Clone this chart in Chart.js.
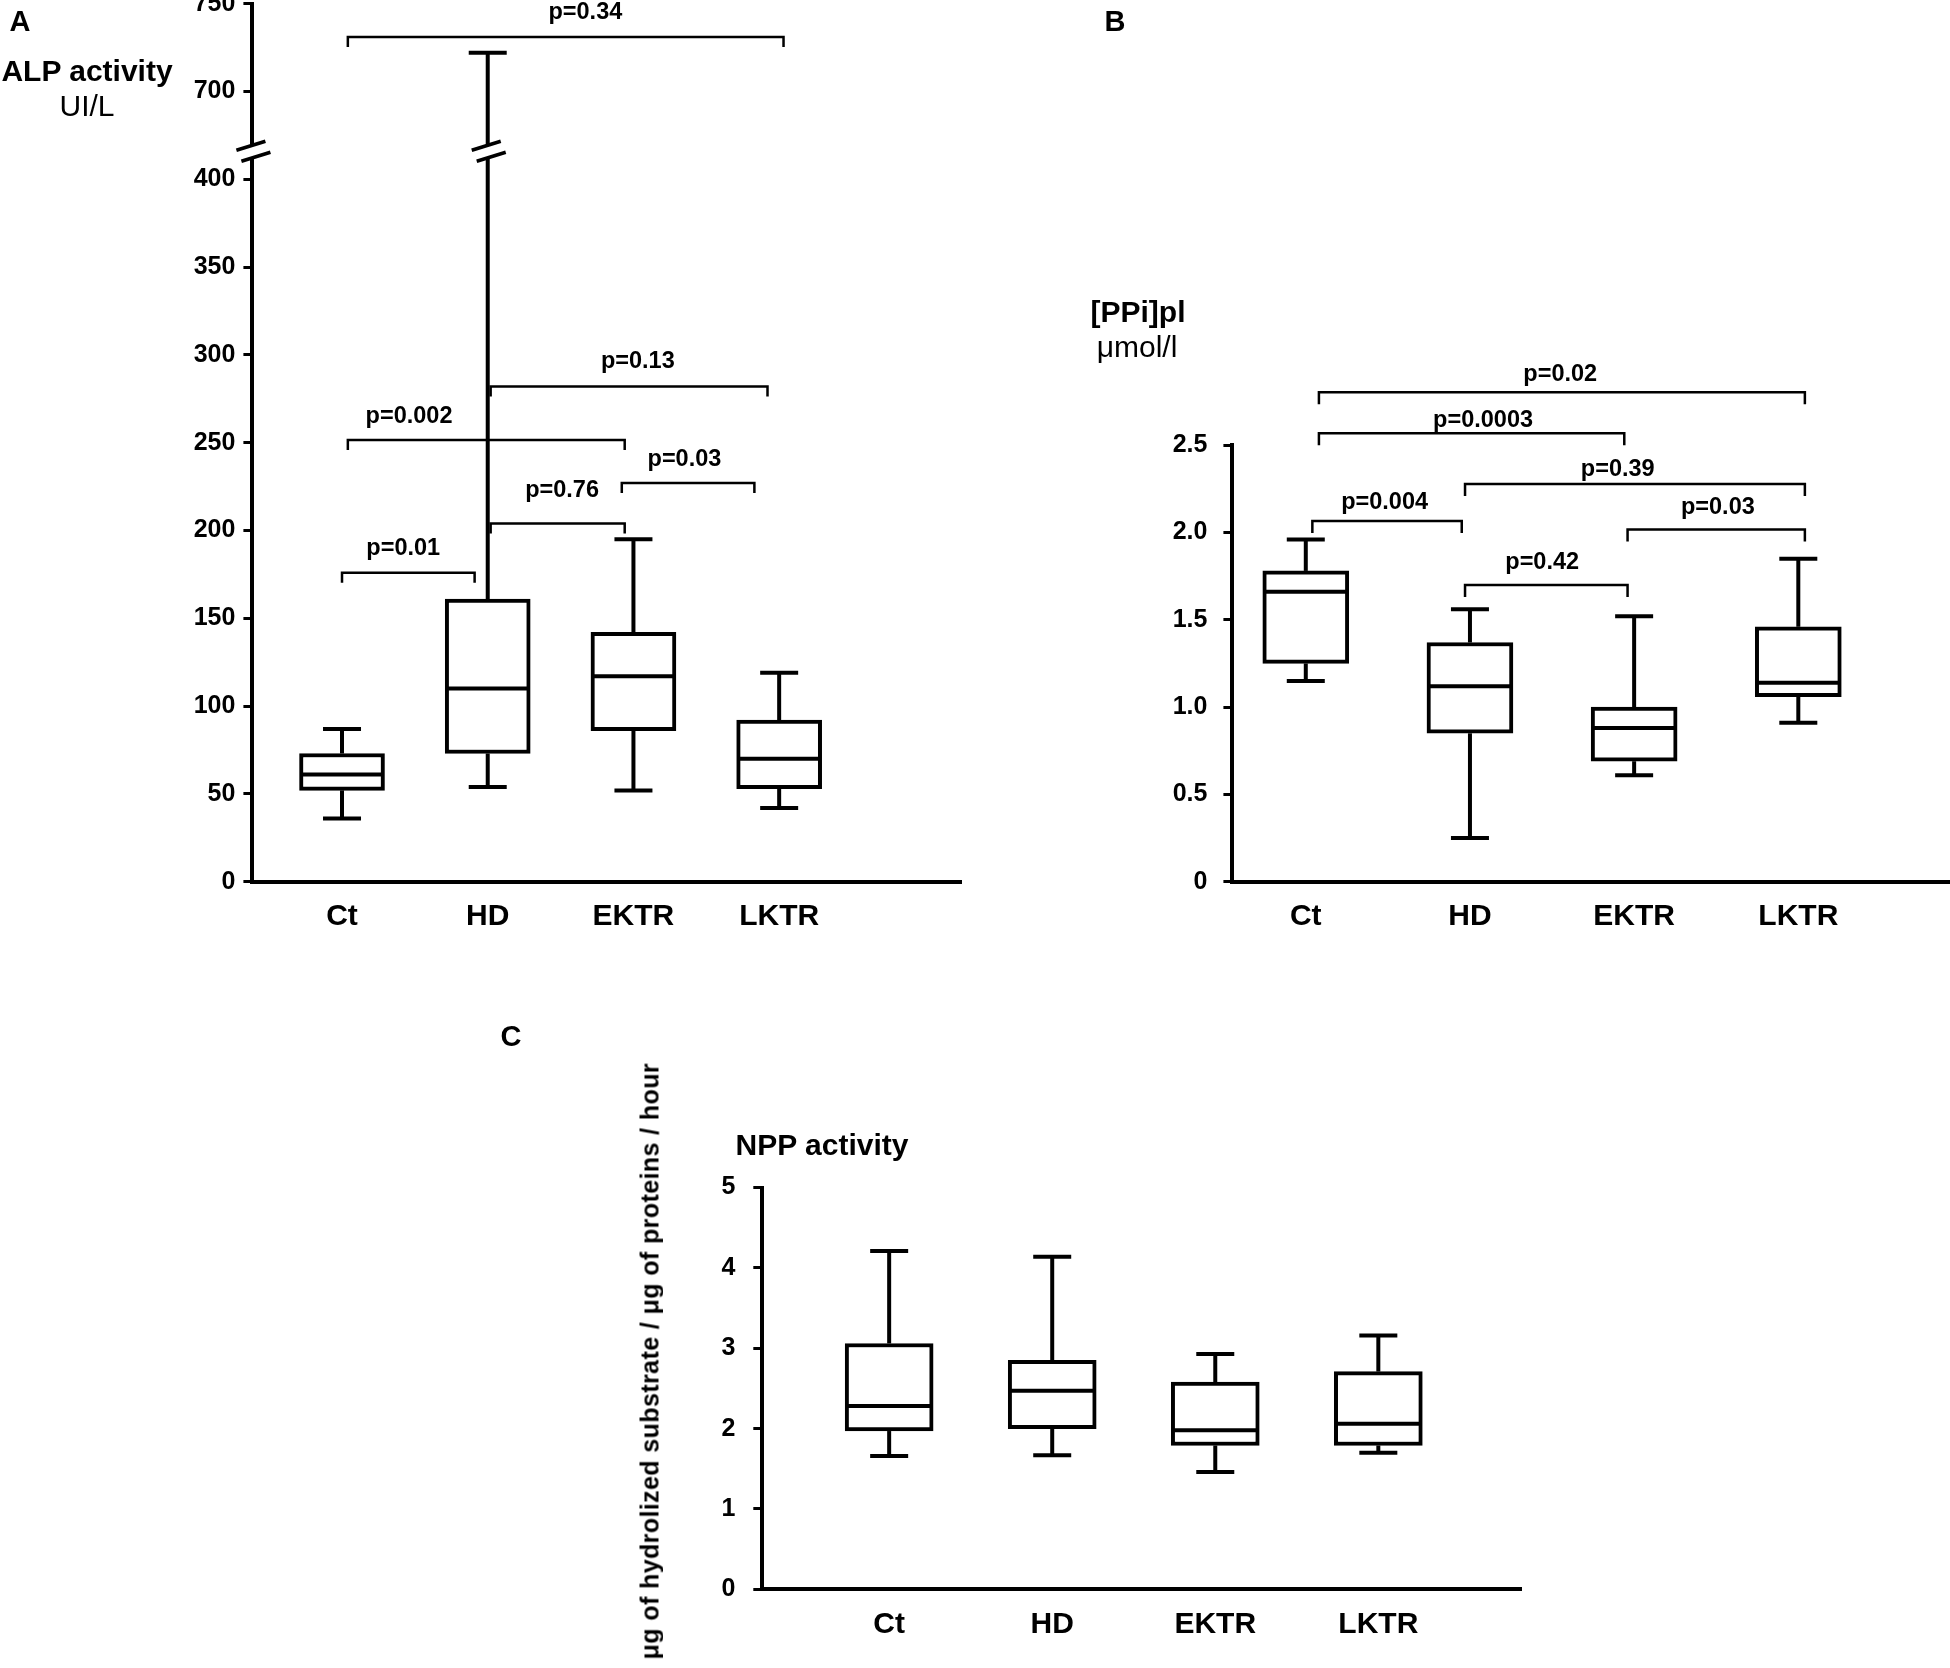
<!DOCTYPE html>
<html><head><meta charset="utf-8">
<script src="https://cdn.jsdelivr.net/npm/chart.js@4.4.1/dist/chart.umd.min.js"></script>
<style>
html,body{margin:0;padding:0;width:1950px;height:1668px;overflow:hidden;background:#fff;}
canvas{position:absolute;left:0;top:0;}
.lbl{position:absolute;font-family:"Liberation Sans",Arial,sans-serif;color:#000;white-space:nowrap;transform:translate(-50%,-50%);line-height:1;}
.b{font-weight:bold;}
</style></head><body>
<canvas id="cA" width="1950" height="1668"></canvas>
<canvas id="cB" width="1950" height="1668"></canvas>
<canvas id="cC" width="1950" height="1668"></canvas>
<div class="lbl b" style="left:20px;top:21px;font-size:29px">A</div>
<div class="lbl b" style="left:87px;top:71px;font-size:30px">ALP activity</div>
<div class="lbl" style="left:87px;top:106px;font-size:30px">UI/L</div>
<div class="lbl b" style="left:1115px;top:21px;font-size:29px">B</div>
<div class="lbl b" style="left:1138px;top:312px;font-size:30px">[PPi]pl</div>
<div class="lbl" style="left:1137px;top:347px;font-size:30px">μmol/l</div>
<div class="lbl b" style="left:511px;top:1036px;font-size:29px">C</div>
<div class="lbl b" style="left:822px;top:1145px;font-size:30px">NPP activity</div>
<div style="position:absolute;left:650px;top:1063px;transform-origin:0 0;transform:rotate(-90deg) translate(-100%,-50%);font-family:'Liberation Sans',Arial,sans-serif;font-weight:bold;font-size:25px;letter-spacing:0.4px;white-space:nowrap;line-height:1;">μg of hydrolized substrate / μg of proteins / hour</div>
<script>
// ---------- data ----------
const categories = ['Ct', 'HD', 'EKTR', 'LKTR'];

// Panel A : ALP activity (UI/L)
const alpMin    = [36, 54, 52, 42];
const alpQ1     = [52, 73, 86, 53];
const alpMedian = [61, 110, 117, 70];
const alpQ3     = [73, 161, 142, 92];
const alpMax    = [87, 722, 195, 119];
const alpTickLabels = ['0','50','100','150','200','250','300','350','400','700','750'];
const alpComparisons = [
  {from: 0.04, to: 3.03, level: 731,   label: 'p=0.34',  textAt: 1.67, textLevel: 745},
  {from: 1.02, to: 2.92, level: 282,   label: 'p=0.13',  textAt: 2.03, textLevel: 296},
  {from: 0.04, to: 1.94, level: 251.6, label: 'p=0.002', textAt: 0.46, textLevel: 265},
  {from: 1.92, to: 2.83, level: 227,   label: 'p=0.03',  textAt: 2.35, textLevel: 240.5},
  {from: 1.02, to: 1.94, level: 204,   label: 'p=0.76',  textAt: 1.51, textLevel: 223},
  {from: 0.00, to: 0.91, level: 176,   label: 'p=0.01',  textAt: 0.42, textLevel: 189.5}
];

// Panel B : [PPi]pl (umol/l)
const ppiMin    = [1.15, 0.25, 0.61, 0.91];
const ppiQ1     = [1.25, 0.85, 0.69, 1.06];
const ppiMedian = [1.66, 1.12, 0.88, 1.14];
const ppiQ3     = [1.78, 1.37, 1.00, 1.46];
const ppiMax    = [1.96, 1.56, 1.52, 1.85];
const ppiTickLabels = ['0','0.5','1.0','1.5','2.0','2.5'];
const ppiComparisons = [
  {from: 0.08, to: 3.04, level: 2.803, label: 'p=0.02',   textAt: 1.55, textLevel: 2.906},
  {from: 0.08, to: 1.94, level: 2.568, label: 'p=0.0003', textAt: 1.08, textLevel: 2.643},
  {from: 0.97, to: 3.04, level: 2.278, label: 'p=0.39',   textAt: 1.90, textLevel: 2.358},
  {from: 0.04, to: 0.95, level: 2.066, label: 'p=0.004',  textAt: 0.48, textLevel: 2.171},
  {from: 1.96, to: 3.04, level: 2.017, label: 'p=0.03',   textAt: 2.51, textLevel: 2.141},
  {from: 0.97, to: 1.96, level: 1.699, label: 'p=0.42',   textAt: 1.44, textLevel: 1.830}
];

// Panel C : NPP activity
const nppMin    = [1.66, 1.67, 1.46, 1.70];
const nppQ1     = [1.97, 2.00, 1.79, 1.79];
const nppMedian = [2.28, 2.47, 1.98, 2.06];
const nppQ3     = [3.06, 2.85, 2.58, 2.71];
const nppMax    = [4.21, 4.14, 2.93, 3.16];
const nppTickLabels = ['0','1','2','3','4','5'];

// ---------- drawing ----------
const FONT = '"Liberation Sans", Arial, sans-serif';
Chart.defaults.font.family = FONT;
Chart.defaults.color = '#000';
const LW = 4;

// broken axis for panel A: 400..700 compressed
function alpTransform(v) { return v <= 400 ? v : (v >= 700 ? v - 250 : 400 + (v - 400) / 6); }

function seg(ctx, x1, y1, x2, y2) { ctx.beginPath(); ctx.moveTo(x1, y1); ctx.lineTo(x2, y2); ctx.stroke(); }

function makeChart(id, o) {
  const tr = o.transform || (v => v);
  const mins = o.min.map(tr), q1 = o.q1.map(tr), med = o.med.map(tr), q3 = o.q3.map(tr), maxs = o.max.map(tr);
  const extras = {
    id: 'extras_' + id,
    beforeDatasetsDraw(chart) {
      const {ctx, scales: {x, y}} = chart;
      ctx.save(); ctx.strokeStyle = '#000'; ctx.lineWidth = LW; ctx.lineCap = 'butt';
      categories.forEach((c, i) => {
        const cx = x.getPixelForValue(i);
        const yMax = y.getPixelForValue(maxs[i]), yMin = y.getPixelForValue(mins[i]);
        seg(ctx, cx, y.getPixelForValue(q3[i]), cx, yMax);
        seg(ctx, cx, y.getPixelForValue(q1[i]), cx, yMin);
        seg(ctx, cx - o.cap / 2, yMax, cx + o.cap / 2, yMax);
        seg(ctx, cx - o.cap / 2, yMin, cx + o.cap / 2, yMin);
      });
      ctx.restore();
    },
    afterDatasetsDraw(chart) {
      const {ctx, scales: {x, y}} = chart;
      ctx.save(); ctx.strokeStyle = '#000'; ctx.lineWidth = LW;
      categories.forEach((c, i) => {
        const cx = x.getPixelForValue(i), ym = y.getPixelForValue(med[i]);
        seg(ctx, cx - o.box / 2 + 1, ym, cx + o.box / 2 - 1, ym);
      });
      ctx.restore();
    },
    afterDraw(chart) {
      const {ctx, scales: {x, y}} = chart;
      ctx.save();
      ctx.strokeStyle = '#000'; ctx.fillStyle = '#000'; ctx.lineWidth = 2.5;
      ctx.font = 'bold ' + o.pFont + 'px ' + FONT;
      ctx.textAlign = 'center'; ctx.textBaseline = 'middle';
      (o.comparisons || []).forEach(b => {
        const x1 = x.getPixelForValue(b.from), x2 = x.getPixelForValue(b.to);
        const yy = y.getPixelForValue(tr(b.level));
        ctx.beginPath();
        ctx.moveTo(x1, yy + o.endTick); ctx.lineTo(x1, yy); ctx.lineTo(x2, yy); ctx.lineTo(x2, yy + o.endTick);
        ctx.stroke();
        ctx.fillText(b.label, x.getPixelForValue(b.textAt), y.getPixelForValue(tr(b.textLevel)));
      });
      if (o.breakAt !== undefined) {
        const yb = y.getPixelForValue(o.breakAt);
        [chart.chartArea.left, x.getPixelForValue(o.breakIndex)].forEach(bx => {
          ctx.fillStyle = '#fff';
          ctx.fillRect(bx - 4, yb - 7, 8, 14);
          ctx.strokeStyle = '#000'; ctx.lineWidth = 3.5;
          seg(ctx, bx - 16, yb - 1, bx + 13, yb - 10);
          seg(ctx, bx - 11, yb + 10, bx + 18, yb + 1);
        });
      }
      ctx.restore();
    }
  };
  return new Chart(document.getElementById(id), {
    type: 'bar',
    data: {
      datasets: [{
        data: categories.map((c, i) => ({x: i, y: [q1[i], q3[i]]})),
        backgroundColor: '#fff', borderColor: '#000', borderWidth: LW,
        borderSkipped: false, barThickness: o.box, grouped: false
      }]
    },
    options: {
      responsive: false, animation: false, devicePixelRatio: 1,
      layout: {padding: o.pad},
      plugins: {legend: {display: false}, tooltip: {enabled: false}, title: {display: false}},
      events: [],
      scales: {
        x: {
          type: 'linear', min: o.xmin, max: o.xmax, offset: false,
          grid: {display: false, drawTicks: false},
          border: {display: true, color: '#000', width: LW},
          afterBuildTicks: s => { s.ticks = categories.map((c, i) => ({value: i})); },
          ticks: {callback: v => categories[v], font: {size: 30, weight: 'bold'}, color: '#000', padding: o.xPad, autoSkip: false, maxRotation: 0},
          afterFit: s => { s.height = 70; s.paddingLeft = 0; s.paddingRight = 0; }
        },
        y: {
          type: 'linear', min: 0, max: o.ymax,
          ticks: {stepSize: o.step, callback: (v, i) => o.tickLabels[i], font: {size: 25, weight: 'bold'}, color: '#000', padding: o.yPad, autoSkip: false},
          grid: {display: true, drawOnChartArea: false, drawTicks: true, tickLength: 9, tickWidth: 3, tickColor: '#000', color: '#000'},
          border: {display: true, color: '#000', width: LW},
          afterFit: s => { s.width = 100; s.paddingTop = 0; s.paddingBottom = 0; }
        }
      }
    },
    plugins: [extras]
  });
}

makeChart('cA', {
  min: alpMin, q1: alpQ1, med: alpMedian, q3: alpQ3, max: alpMax, transform: alpTransform,
  tickLabels: alpTickLabels, comparisons: alpComparisons,
  ymax: 500, step: 50, xmin: -0.615, xmax: 4.25,
  pad: {left: 152.4, top: 3.7, right: 988.7, bottom: 716.3},
  box: 85, cap: 38, pFont: 23.5, endTick: 10, xPad: 17, yPad: 8,
  breakAt: 416, breakIndex: 1
});
makeChart('cB', {
  min: ppiMin, q1: ppiQ1, med: ppiMedian, q3: ppiQ3, max: ppiMax,
  tickLabels: ppiTickLabels, comparisons: ppiComparisons,
  ymax: 2.5, step: 0.5, xmin: -0.447, xmax: 3.924,
  pad: {left: 1132.4, top: 445.2, right: 0, bottom: 716.3},
  box: 86, cap: 38, pFont: 23.5, endTick: 12, xPad: 17, yPad: 16
});
makeChart('cC', {
  min: nppMin, q1: nppQ1, med: nppMedian, q3: nppQ3, max: nppMax,
  tickLabels: nppTickLabels, comparisons: [],
  ymax: 5, step: 1, xmin: -0.778, xmax: 3.875,
  pad: {left: 662.3, top: 1187.6, right: 429, bottom: 8.7},
  box: 88, cap: 38, pFont: 23.5, endTick: 12, xPad: 17, yPad: 18
});
</script>
</body></html>
